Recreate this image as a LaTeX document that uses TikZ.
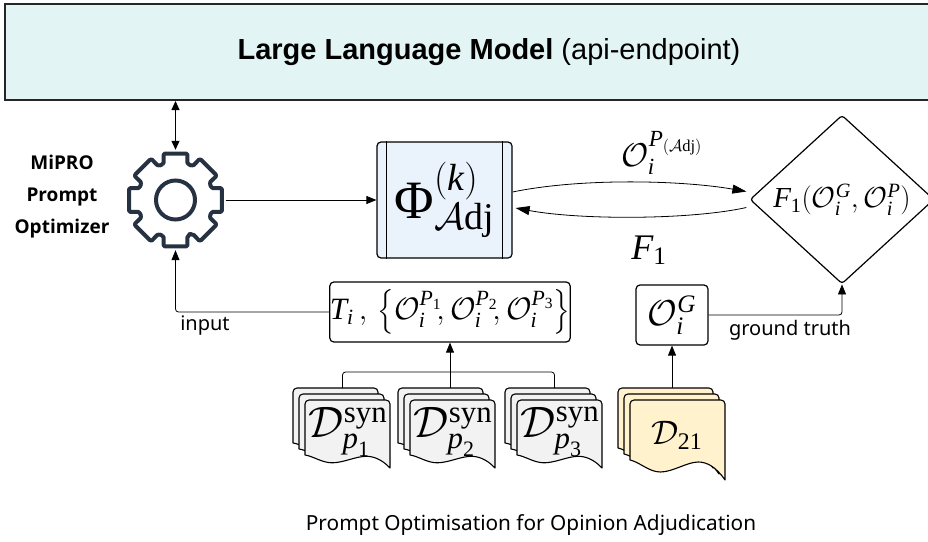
\RequirePackage{fix-cm}
\documentclass[tikz,border=0pt]{standalone}
\usepackage{amsmath}
\usepackage{fontspec}
\setmainfont{Liberation Serif}
\newfontfamily\lserif{Liberation Serif}
\newfontfamily\lsans{Liberation Sans}
\newfontfamily\nsans{Noto Sans}
\newfontfamily\osans{Open Sans}
\usetikzlibrary{arrows.meta,shapes.geometric}
\definecolor{llmfill}{HTML}{E3F4F4}
\definecolor{phifill}{HTML}{EAF2FC}
\definecolor{docgray}{HTML}{F2F2F2}
\definecolor{docyel}{HTML}{FFF2CC}
\definecolor{gearcol}{HTML}{263241}
\newcommand\fs[1]{\fontsize{#1}{#1}\selectfont}
\newcommand\ti[1]{\text{\lserif\itshape #1}}
\newcommand\tr[1]{\text{\lserif\upshape #1}}
% x y w hl hr fill
\newcommand\docpage[6]{%
  \pgfmathsetmacro\dpa{#5-#4}%
  \filldraw[fill=#6,draw=black,line width=1.1pt,line join=round]
    ({#1},{#2+#4}) [rounded corners=4pt] -- ({#1},{#2}) -- ({#1+#3},{#2}) -- ({#1+#3},{#2+0.5*#5})
    [sharp corners] -- ({#1+#3},{#2+#5})
    .. controls ({#1+0.9*#3},{#2+#4+0.3*\dpa}) and ({#1+0.8*#3},{#2+#4+0.1*\dpa}) .. ({#1+0.72*#3},{#2+#4+0.1*\dpa})
    .. controls ({#1+0.6*#3},{#2+#4+0.1*\dpa}) and ({#1+0.45*#3},{#2+#4+0.6*\dpa}) .. ({#1+0.32*#3},{#2+#4+0.6*\dpa})
    .. controls ({#1+0.2*#3},{#2+#4+0.6*\dpa}) and ({#1+0.1*#3},{#2+#4+0.1*\dpa}) .. ({#1},{#2+#4}) -- cycle;}
% x y (front page top-left) w hl hr fill offset
\newcommand\docstack[7]{%
  \docpage{#1-2*#7}{#2-2*#7}{#3}{#4}{#5}{#6}%
  \docpage{#1-#7}{#2-#7}{#3}{#4}{#5}{#6}%
  \docpage{#1}{#2}{#3}{#4}{#5}{#6}}
\begin{document}
\begin{tikzpicture}[x=1pt,y=-1pt,
  conn/.style={line width=0.8pt,draw=black},
  arr/.style={conn,-{Triangle[length=10pt,width=8pt]}},
  arrbig/.style={conn,-{Triangle[length=14pt,width=9pt]}},
  dblarr/.style={conn,line width=1pt,{Triangle[length=9pt,width=8pt]}-{Triangle[length=9pt,width=8pt]}},
  llmbox/.style={draw=black!85,line width=2pt,fill=llmfill,inner sep=0pt},
  roundbox/.style={draw=black,line width=1.2pt,rounded corners=4pt,inner sep=0pt,fill=white},
  sanslbl/.style={font=\nsans\fs{20}},
  gearline/.style={draw=gearcol,line width=4pt,line join=round,rounded corners=1.5pt}]
\useasboundingbox (0,0) rectangle (928,541);

% LLM
\node[llmbox,minimum width=968pt,minimum height=96pt] (llm) at (489,52)
  {\lsans\fs{29}\textbf{Large Language Model} (api-endpoint)};

% gear
\node[circle,minimum size=100pt,inner sep=0pt] (gear) at (175.5,200) {};
\draw[gearline,shift={(gear.center)}]
  (67.5:38) \foreach \a in {90,135,...,405} { -- (\a-18:38) -- (\a-14.5:48) -- (\a+14.5:48) -- (\a+18:38) -- (\a+22.5:38) } -- cycle;
\draw[gearcol,line width=4pt] (gear.center) circle[radius=19.5pt];
\node[font=\osans\bfseries\fontsize{19}{32}\selectfont,align=center] (mipro) at (62,197) {MiPRO\\Prompt\\Optimizer};

% Phi box
\node[draw=black,line width=1.2pt,rounded corners=4pt,fill=phifill,minimum width=135pt,minimum height=116pt,inner sep=0pt] (phi) at (444.5,200)
  {\fs{54}$\tr{Φ}^{(\ti{k})}_{\mathcal{A}\tr{dj}}$};
\draw[line width=1.1pt] ([xshift=10pt]phi.north west) -- ([xshift=10pt]phi.south west);
\draw[line width=1.1pt] ([xshift=-10pt]phi.north east) -- ([xshift=-10pt]phi.south east);

% diamond
\node[diamond,draw=black,line width=1.2pt,rounded corners=3pt,minimum width=184pt,minimum height=165pt,inner sep=0pt] (dia) at (842,199.5)
  {\fs{29}$\ti{F}_{\tr{1}}(\mathcal{O}_{\ti{i}}^{\ti{G}},\mathcal{O}_{\ti{i}}^{\ti{P}})$};

% T box
\node[roundbox,minimum width=236pt,minimum height=60pt] (T) at (450,312)
  {\fs{31}$\ti{T}_{\ti{i}}\,,\,\bigl\{\mathcal{O}_{\ti{i}}^{\ti{P}_{\tr{1}}}\!,\mathcal{O}_{\ti{i}}^{\ti{P}_{\tr{2}}}\!,\mathcal{O}_{\ti{i}}^{\ti{P}_{\tr{3}}}\bigr\}$};

% O^G box
\node[roundbox,minimum width=72pt,minimum height=60pt] (OG) at (672,315)
  {\fs{36}$\mathcal{O}_{\ti{i}}^{\ti{G}}$};

% documents
\docstack{305}{400}{85}{55}{68}{docgray}{6}
\docstack{410}{400}{85}{55}{68}{docgray}{6}
\docstack{517}{400}{85}{55}{68}{docgray}{6}
\docstack{630}{400}{95}{60}{80}{docyel}{6}
\node (d1) at (348,432) {\fs{44}$\mathcal{D}^{\tr{syn}}_{\ti{p}_{\tr{1}}}$};
\node (d2) at (453,432) {\fs{44}$\mathcal{D}^{\tr{syn}}_{\ti{p}_{\tr{2}}}$};
\node (d3) at (560,432) {\fs{44}$\mathcal{D}^{\tr{syn}}_{\ti{p}_{\tr{3}}}$};
\node (d4) at (677,435) {\fs{34}$\mathcal{D}_{\tr{21}}$};
\coordinate (d1top) at (342.5,388);
\coordinate (d2top) at (450,388);
\coordinate (d3top) at (554.5,388);
\coordinate (d4top) at (672,388);

% connectors
\draw[dblarr] (llm.south -| gear.north) -- (gear.north);
\draw[arr] (gear.east) -- (phi.west);
\draw[arr,rounded corners=3pt] (T.west) -| (gear.south);
\node[sanslbl] (inputlbl) at (205,326) {input};
\draw[conn,rounded corners=3pt] (d1top) -- ++(0,-16) -| (d3top);
\draw[arr] (d2top) -- (T.south);
\draw[arr] (d4top) -- (d4top |- OG.south);
\draw[arr,rounded corners=3pt] (OG.east) -| (dia.south);
\node[sanslbl] (gtlbl) at (790,330) {ground truth};
\draw[arrbig] ([yshift=8pt]phi.east) .. controls (580,178) and (680,180) .. ([xshift=-3pt,yshift=8pt]dia.west);
\draw[arrbig] ([xshift=-3pt,yshift=-8pt]dia.west) .. controls (690,220) and (580,220) .. ([xshift=3pt,yshift=-8pt]phi.east);
\node (olbl) at (662,153) {\fs{33}$\mathcal{O}_{\ti{i}}^{\ti{P}_{(\mathcal{A}\tr{dj})}}$};
\node (f1lbl) at (649,250) {\fs{36}$\ti{F}_{\tr{1}}$};

% caption
\node[font=\nsans\fs{20.8}] (caption) at (531,525) {Prompt Optimisation for Opinion Adjudication};
\end{tikzpicture}
\end{document}
